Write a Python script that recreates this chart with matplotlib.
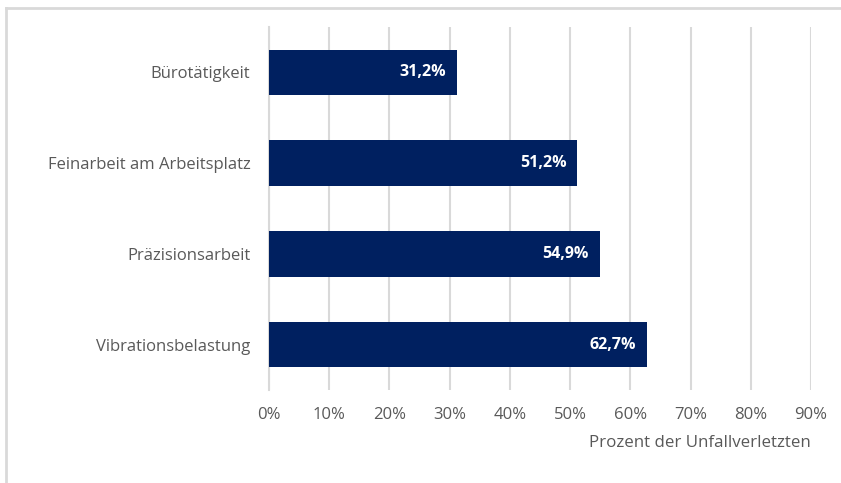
import matplotlib.pyplot as plt
from matplotlib.lines import Line2D

categories = ['Bürotätigkeit', 'Feinarbeit am Arbeitsplatz', 'Präzisionsarbeit', 'Vibrationsbelastung']
values = [31.2, 51.2, 54.9, 62.7]
xticks = [0, 10, 20, 30, 40, 50, 60, 70, 80, 90]

plt.rcParams['font.family'] = ['Open Sans', 'DejaVu Sans']

fig = plt.figure(figsize=(8.41, 4.83), dpi=100)
ax = fig.add_axes([269 / 841, 1 - 390 / 483, (811 - 269) / 841, (390 - 27) / 483])

ypos = list(range(len(categories)))
ax.barh(ypos, values, height=0.5, color='#002060', zorder=3)
for y, v in zip(ypos, values):
    ax.text(v - 1.8, y, f'{v:.1f}%'.replace('.', ','), ha='right', va='center',
            color='white', fontsize=11.5, fontweight='bold', zorder=4)

ax.set_xlim(0, 90)
ax.set_ylim(len(categories) - 0.5, -0.5)
ax.set_yticks(ypos)
ax.set_yticklabels(categories)
ax.set_xticks(xticks)
ax.set_xticklabels([f'{t}%' for t in xticks])
ax.tick_params(axis='both', length=0, colors='#595959', labelsize=12)
ax.tick_params(axis='y', pad=13.5)
ax.tick_params(axis='x', pad=12.5)

ax.grid(axis='x', color='#d9d9d9', linewidth=1.5, zorder=0)
for s in ['top', 'right', 'bottom']:
    ax.spines[s].set_visible(False)
ax.spines['left'].set_color('#d9d9d9')
ax.spines['left'].set_linewidth(1.5)

ax.set_xlabel('Prozent der Unfallverletzten', color='#595959', fontsize=12.2,
              loc='right', labelpad=8.5)

# light frame around the chart area
fig.add_artist(Line2D([5.5 / 841, 1], [1 - 7.5 / 483] * 2, color='#d9d9d9', lw=2))
fig.add_artist(Line2D([5.5 / 841] * 2, [0, 1 - 7.5 / 483], color='#d9d9d9', lw=2))

fig.savefig('out.png', dpi=100)
